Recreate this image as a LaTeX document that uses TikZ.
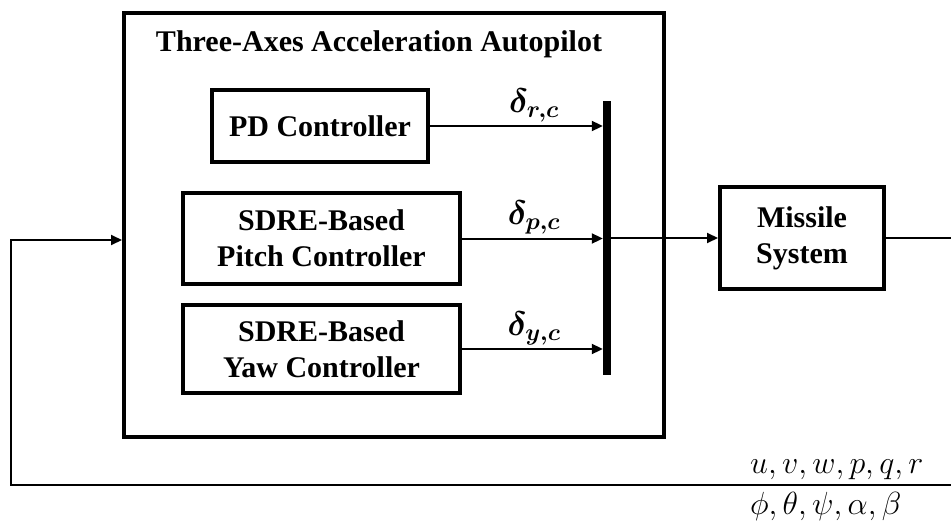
\RequirePackage{fix-cm}
\documentclass[tikz,border=0pt]{standalone}
\usepackage{amsmath}
\usepackage{bm}
\usepackage{fontspec}
\setmainfont{Liberation Serif}
\usetikzlibrary{arrows.meta}
\begin{document}
\begin{tikzpicture}[x=1pt,y=-1pt,
  blk/.style={draw,line width=4pt,align=center,inner sep=0pt,font=\bfseries\fontsize{30}{36}\selectfont},
  conn/.style={line width=2pt,-{Triangle[length=11pt,width=10pt]}},
  lbl/.style={font=\fontsize{34}{40}\selectfont,inner sep=0pt,anchor=base},
  mlbl/.style={font=\fontsize{32}{38}\selectfont,inner sep=0pt,anchor=base west}]
\useasboundingbox (0,0) rectangle (951,527);
\clip (0,0) rectangle (951,527);
% outer autopilot box
\node[blk,minimum width=540pt,minimum height=424pt] (outer) at (394,225) {};
\node[font=\bfseries\fontsize{30}{36}\selectfont,inner sep=0pt,anchor=base] (title) at (379,52) {Three-Axes Acceleration Autopilot};
% controllers
\node[blk,minimum width=216pt,minimum height=72pt] (pd) at (320,126) {PD Controller};
\node[blk,minimum width=277pt,minimum height=91pt] (pitch) at (321.5,238.5) {SDRE-Based\\Pitch Controller};
\node[blk,minimum width=277pt,minimum height=88pt] (yaw) at (321.5,349) {SDRE-Based\\Yaw Controller};
% bus bar
\node[fill=black,minimum width=8pt,minimum height=274pt,inner sep=0pt] (bar) at (607,238) {};
% missile
\node[blk,minimum width=164pt,minimum height=102pt] (missile) at (802,238) {Missile\\System};
% control arrows
\draw[conn] (pd.east) -- (pd.east -| bar.west);
\draw[conn] (pitch.east) -- (pitch.east -| bar.west);
\draw[conn] (yaw.east) -- (yaw.east -| bar.west);
\draw[conn] (bar.east |- missile.west) -- (missile.west);
% labels
\node[lbl] (dr) at (534,112) {$\bm{\delta_{r,c}}$};
\node[lbl] (dp) at (534,224) {$\bm{\delta_{p,c}}$};
\node[lbl] (dy) at (534,335) {$\bm{\delta_{y,c}}$};
% feedback
\coordinate (fr) at (960,485);
\coordinate (fl) at (11,485);
\coordinate (fin) at (11,240);
\draw[conn] (missile.east) -- (missile.east -| fr) -- (fr) -- (fl) -- (fin) -- (fin -| outer.west);
\node[mlbl] (states1) at (750,473) {$u, v, w, p, q, r$};
\node[mlbl] (states2) at (750,514) {$\phi, \theta, \psi, \alpha, \beta$};
\end{tikzpicture}
\end{document}
